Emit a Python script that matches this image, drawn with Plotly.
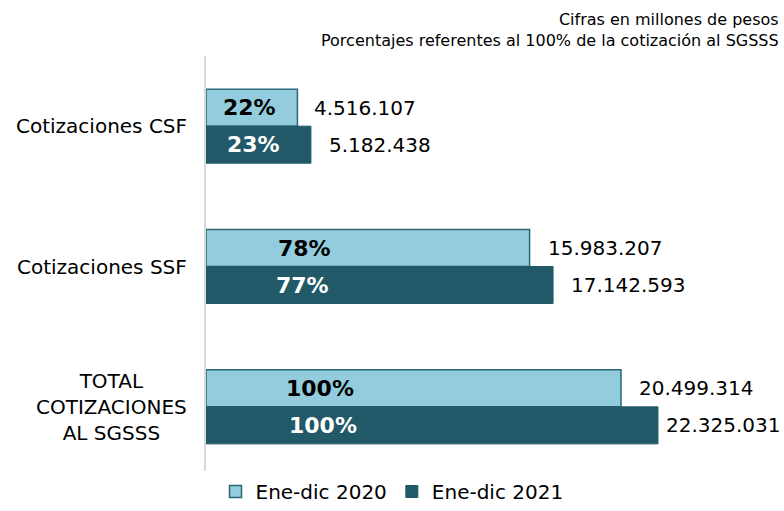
import plotly.graph_objects as go

categories = ["Cotizaciones CSF", "Cotizaciones SSF", "TOTAL COTIZACIONES AL SGSSS"]
category_labels = ["Cotizaciones CSF", "Cotizaciones SSF", "TOTAL<br>COTIZACIONES<br>AL SGSSS"]
series_names = ["Ene-dic 2020", "Ene-dic 2021"]
values_2020 = [4516107, 15983207, 20499314]
values_2021 = [5182438, 17142593, 22325031]
pct_2020 = ["22%", "78%", "100%"]
pct_2021 = ["23%", "77%", "100%"]

# label placement (layout only)
pct_x_2020 = [2.17e6, 4.88e6, 5.62e6]
pct_x_2021 = [2.37e6, 4.79e6, 5.80e6]
value_label_shift_2020 = [15, 16, 16]
value_label_shift_2021 = [16, 16, 6]

FONT = "Verdana, DejaVu Sans, sans-serif"
LIGHT = "#93CDDD"
DARK = "#215968"
EDGE = "#2C6577"

def fmt(v):
    return f"{v:,}".replace(",", ".")

fig = go.Figure()
fig.add_trace(go.Bar(
    y=categories, x=values_2020, orientation="h", name=series_names[0],
    marker=dict(color=LIGHT, line=dict(color=EDGE, width=1.5)),
    hoverinfo="x+name",
))
fig.add_trace(go.Bar(
    y=categories, x=values_2021, orientation="h", name=series_names[1],
    marker=dict(color=DARK, line=dict(color=DARK, width=1)),
    hoverinfo="x+name",
))

ann = []
for i, cat in enumerate(categories):
    ann.append(dict(x=values_2020[i], y=cat, xref="x", yref="y", text=fmt(values_2020[i]),
                    xanchor="left", yanchor="middle", showarrow=False, yshift=18.5,
                    xshift=value_label_shift_2020[i],
                    font=dict(family=FONT, size=20, color="#000000")))
    ann.append(dict(x=values_2021[i], y=cat, xref="x", yref="y", text=fmt(values_2021[i]),
                    xanchor="left", yanchor="middle", showarrow=False, yshift=-18.5,
                    xshift=value_label_shift_2021[i],
                    font=dict(family=FONT, size=20, color="#000000")))
    ann.append(dict(x=pct_x_2020[i], y=cat, xref="x", yref="y", text="<b>" + pct_2020[i] + "</b>",
                    xanchor="center", yanchor="middle", showarrow=False, yshift=18.5,
                    font=dict(family=FONT, size=22, color="#000000")))
    ann.append(dict(x=pct_x_2021[i], y=cat, xref="x", yref="y", text="<b>" + pct_2021[i] + "</b>",
                    xanchor="center", yanchor="middle", showarrow=False, yshift=-18.5,
                    font=dict(family=FONT, size=22, color="#FFFFFF")))
    ann.append(dict(x=0, y=cat, xref="paper", yref="y", text=category_labels[i],
                    xanchor="right", yanchor="middle", showarrow=False, xshift=-17,
                    align="center", font=dict(family=FONT, size=20, color="#000000")))

ann.append(dict(x=1, y=1, xref="paper", yref="paper", xanchor="right", yanchor="bottom",
                xshift=-3, yshift=4, showarrow=False, align="right",
                text="Cifras en millones de pesos<br>Porcentajes referentes al 100% de la cotización al SGSSS",
                font=dict(family=FONT, size=16, color="#000000")))

fig.update_layout(
    width=784, height=511,
    margin=dict(l=206, r=0, t=56, b=40),
    paper_bgcolor="white", plot_bgcolor="white",
    barmode="group", bargap=0.4726, bargroupgap=0,
    font=dict(family=FONT, size=20, color="#000000"),
    xaxis=dict(range=[0, 28.55e6], showgrid=False, zeroline=False, showticklabels=False,
               showline=False, ticks=""),
    yaxis=dict(range=[2.457, -0.5], showgrid=False, zeroline=False, showticklabels=False,
               showline=True, linecolor="#D9D9D9", linewidth=2, ticks=""),
    legend=dict(orientation="h", xref="container", yref="container", x=0.5, y=0,
                xanchor="center", yanchor="bottom", font=dict(family=FONT, size=20),
                traceorder="normal", itemwidth=30),
    annotations=ann,
    showlegend=True,
)

fig.write_html("out.html", config={"displayModeBar": False},
               post_script="document.body.style.margin='0';document.body.style.overflow='hidden';")
